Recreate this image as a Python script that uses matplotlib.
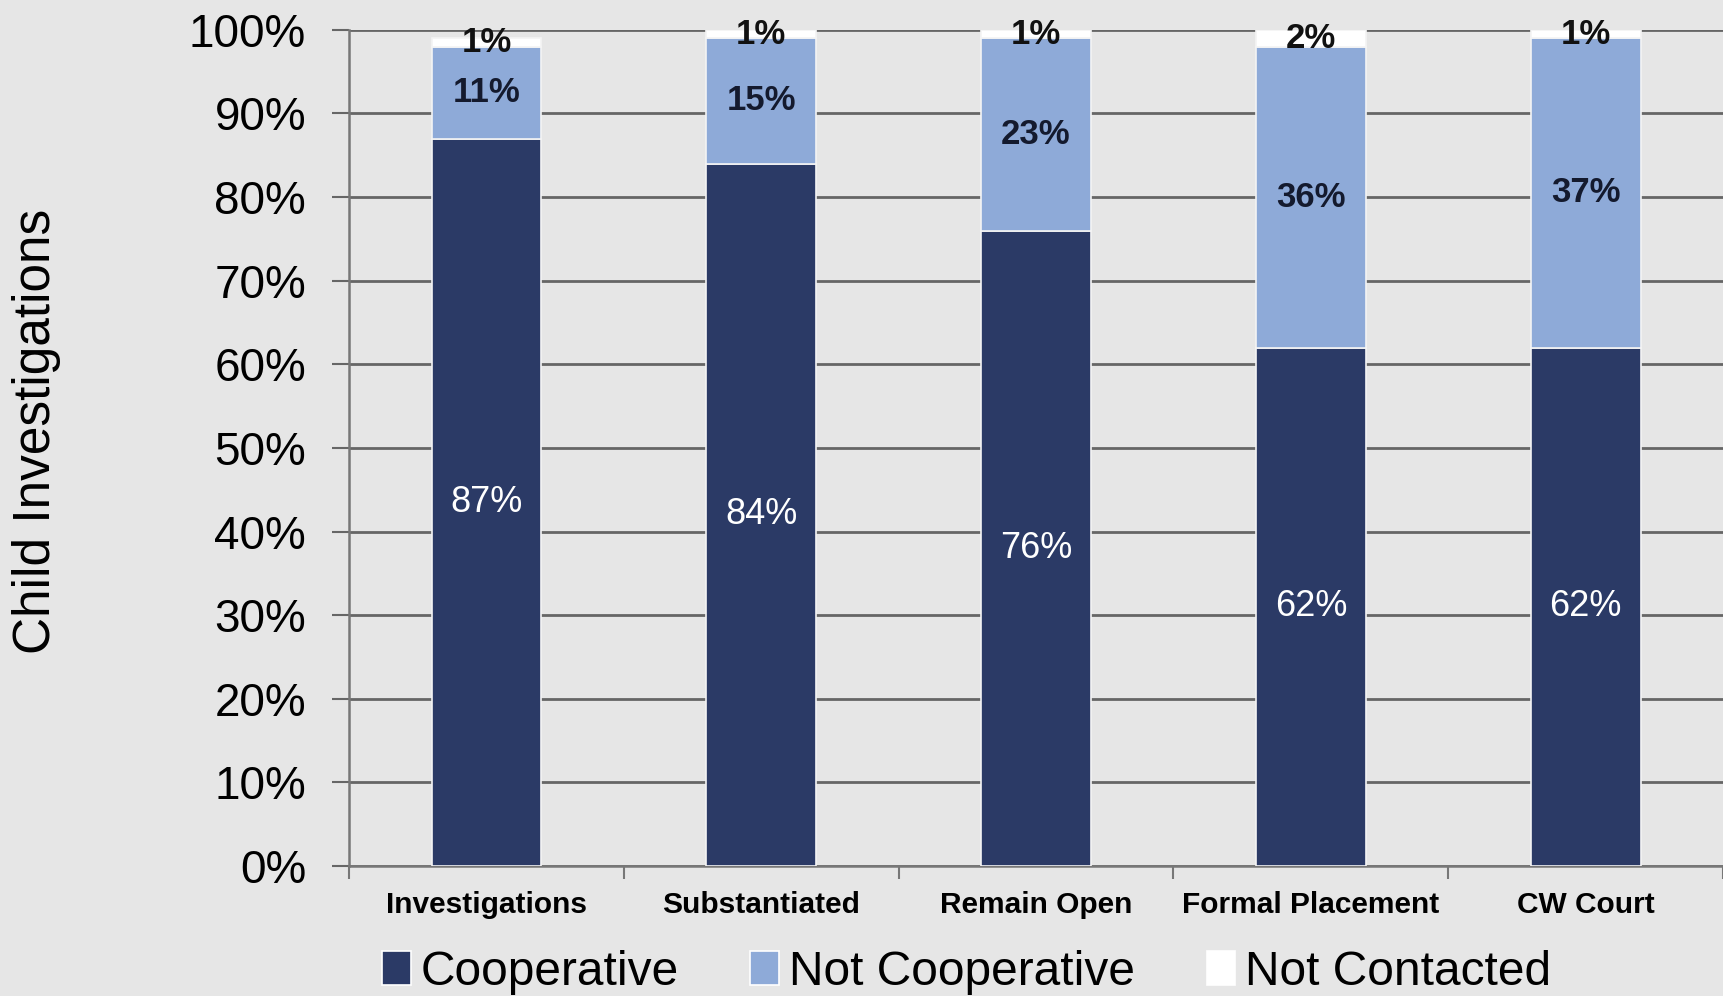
import matplotlib
matplotlib.use('Agg')
import matplotlib.pyplot as plt
import numpy as np
from matplotlib.patches import Patch

plt.rcParams['font.family'] = ['Liberation Sans', 'DejaVu Sans']

# data
categories = ['Investigations', 'Substantiated', 'Remain Open', 'Formal Placement', 'CW Court']
cooperative = [87, 84, 76, 62, 62]
not_cooperative = [11, 15, 23, 36, 37]
not_contacted = [1, 1, 1, 2, 1]
series_names = ['Cooperative', 'Not Cooperative', 'Not Contacted']

c_dark = '#2b3a66'
c_light = '#8eaad8'
c_white = '#ffffff'
bg = '#e6e6e6'

fig = plt.figure(figsize=(17.23, 9.96), dpi=100, facecolor=bg)
ax = fig.add_axes([0.2026, 0.1305, 0.7974, 0.8395])
ax.set_facecolor(bg)

x = np.arange(len(categories))
w = 0.4
bottom2 = np.array(cooperative)
bottom3 = bottom2 + np.array(not_cooperative)

ax.bar(x, cooperative, w, color=c_dark, edgecolor='#f4f4f4', linewidth=1.2, zorder=3)
ax.bar(x, not_cooperative, w, bottom=bottom2, color=c_light, edgecolor='#f4f4f4', linewidth=1.2, zorder=3)
ax.bar(x, not_contacted, w, bottom=bottom3, color=c_white, edgecolor='#f4f4f4', linewidth=1.2, zorder=3)

# labels centred in each segment
for i in range(len(categories)):
    ax.text(x[i], cooperative[i] / 2, f'{cooperative[i]}%', ha='center', va='center',
            color='white', fontsize=26, zorder=5)
    ax.text(x[i], bottom2[i] + not_cooperative[i] / 2, f'{not_cooperative[i]}%', ha='center', va='center',
            color='#141a2e', fontsize=25, fontweight='bold', zorder=5)
    ax.text(x[i], bottom3[i] + not_contacted[i] / 2, f'{not_contacted[i]}%', ha='center', va='center',
            color='#111111', fontsize=25, fontweight='bold', zorder=5)

ax.set_xlim(-0.5, len(categories) - 0.5)
ax.set_ylim(0, 100)
ax.set_yticks(np.arange(0, 101, 10))
ax.set_yticklabels([f'{v}%' for v in range(0, 101, 10)], fontsize=33)
ax.yaxis.grid(True, color='#666666', linewidth=2, zorder=1)
ax.set_axisbelow(True)

ax.set_xticks(x)
ax.set_xticklabels(categories, fontsize=21.5, fontweight='bold')
ax.set_xticks(np.arange(-0.5, len(categories), 1), minor=True)
ax.tick_params(axis='x', which='major', length=0, pad=18)
ax.tick_params(axis='x', which='minor', length=9, width=1.5, color='#777777', direction='out')
ax.tick_params(axis='y', length=12, width=1.5, color='#666666', pad=19)

for s in ['top', 'right']:
    ax.spines[s].set_visible(False)
for s in ['left', 'bottom']:
    ax.spines[s].set_color('#777777')
    ax.spines[s].set_linewidth(1.8)

fig.text(0.021, 0.567, 'Child Investigations', rotation=90, ha='center', va='center', fontsize=37)

handles = [Patch(facecolor=c_dark, edgecolor='white', linewidth=1.2),
           Patch(facecolor=c_light, edgecolor='white', linewidth=1.2),
           Patch(facecolor=c_white, edgecolor='white', linewidth=1.2)]
fig.legend(handles, series_names, loc='center', bbox_to_anchor=(0.561, 0.024), ncol=3,
           frameon=False, fontsize=34.5, handlelength=0.6, handleheight=0.7,
           handletextpad=0.2, columnspacing=1.5, borderaxespad=0)

fig.savefig('out.png', dpi=100, facecolor=bg)
